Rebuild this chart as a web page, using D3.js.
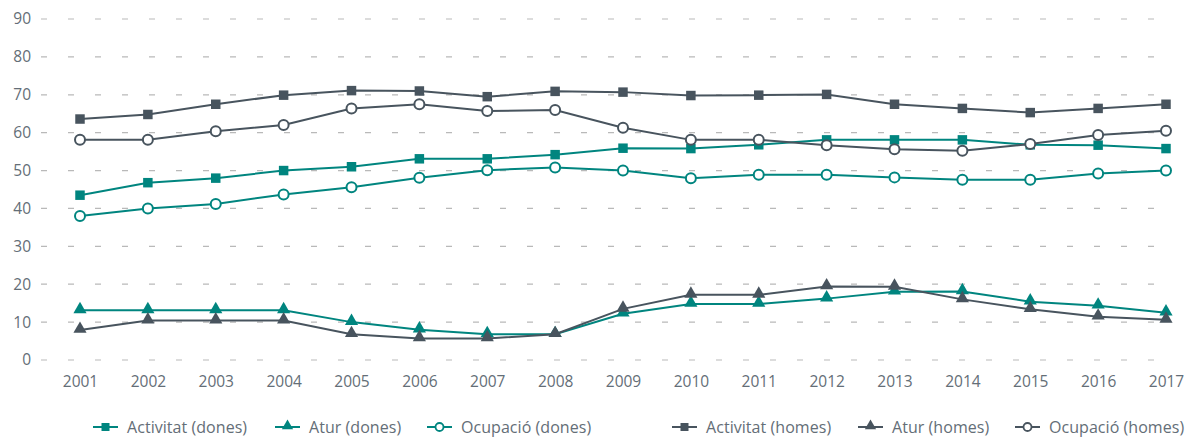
<!DOCTYPE html>
<html>
<head>
<meta charset="utf-8">
<script src="https://cdn.jsdelivr.net/npm/d3@7"></script>
<style>
  html, body { margin: 0; padding: 0; background: #fff; }
  svg { display: block; font-family: "Open Sans", "Noto Sans", sans-serif; }
</style>
</head>
<body>
<svg id="chart" width="1185" height="437"></svg>
<script>
// Years on the x axis
const years = [2001, 2002, 2003, 2004, 2005, 2006, 2007, 2008, 2009, 2010, 2011, 2012, 2013, 2014, 2015, 2016, 2017];
const yTicks = [0, 10, 20, 30, 40, 50, 60, 70, 80, 90];

// Rates (%) by sex
const activitatDones = [43.5, 46.8, 48.0, 50.0, 51.0, 53.1, 53.1, 54.2, 55.9, 55.8, 56.8, 58.1, 58.1, 58.1, 56.8, 56.7, 55.8];
const aturDones      = [13.1, 13.1, 13.1, 13.1, 10.0, 8.0, 6.8, 6.8, 12.2, 14.8, 14.8, 16.2, 18.0, 18.1, 15.4, 14.3, 12.5];
const ocupacioDones  = [38.0, 40.0, 41.2, 43.7, 45.6, 48.1, 50.1, 50.8, 50.0, 48.0, 48.9, 48.9, 48.2, 47.6, 47.6, 49.2, 50.0];
const activitatHomes = [63.6, 64.8, 67.5, 69.9, 71.1, 71.0, 69.5, 70.9, 70.7, 69.8, 69.9, 70.1, 67.5, 66.4, 65.3, 66.4, 67.5];
const aturHomes      = [7.9, 10.4, 10.4, 10.4, 6.8, 5.7, 5.7, 6.8, 13.5, 17.2, 17.2, 19.4, 19.3, 16.0, 13.4, 11.4, 10.6];
const ocupacioHomes  = [58.1, 58.1, 60.4, 62.0, 66.4, 67.5, 65.7, 66.0, 61.3, 58.1, 58.1, 56.7, 55.6, 55.2, 57.0, 59.4, 60.5];

const TEAL = "#00857f";
const DARK = "#48545e";
const TEXT = "#646e77";

const series = [
  { name: "Activitat (dones)", values: activitatDones, color: TEAL, marker: "square" },
  { name: "Atur (dones)",      values: aturDones,      color: TEAL, marker: "triangle" },
  { name: "Ocupació (dones)",  values: ocupacioDones,  color: TEAL, marker: "circle" },
  { name: "Activitat (homes)", values: activitatHomes, color: DARK, marker: "square" },
  { name: "Atur (homes)",      values: aturHomes,      color: DARK, marker: "triangle" },
  { name: "Ocupació (homes)",  values: ocupacioHomes,  color: DARK, marker: "circle" }
];

const svg = d3.select("#chart");

const x = d3.scalePoint().domain(years).range([80, 1166]);
const y = d3.scaleLinear().domain([0, 90]).range([360, 19]);

// Horizontal dashed grid
const grid = svg.append("g");
grid.selectAll("line").data(yTicks).join("line")
  .attr("x1", 41).attr("x2", 1168)
  .attr("y1", d => y(d)).attr("y2", d => y(d))
  .attr("stroke", "#b9b9b9").attr("stroke-width", 1.2)
  .attr("stroke-dasharray", "6,21");

// Y axis labels
const yAxis = d3.axisLeft(y).tickValues(yTicks).tickSize(0).tickPadding(0);
svg.append("g").attr("transform", "translate(31,0)").call(yAxis)
  .call(g => g.select(".domain").remove())
  .call(g => g.selectAll("text").attr("fill", TEXT).style("font-size", "15.5px")
    .style("font-family", "'Open Sans', sans-serif"));

// X axis labels
const xAxis = d3.axisBottom(x).tickSize(0).tickPadding(0);
svg.append("g").attr("transform", "translate(0,376)").call(xAxis)
  .call(g => g.select(".domain").remove())
  .call(g => g.selectAll("text").attr("fill", TEXT).style("font-size", "15.5px")
    .style("font-family", "'Open Sans', sans-serif"));

const line = d3.line().x((d, i) => x(years[i])).y(d => y(d));

const symbolFor = {
  square: d3.symbol().type(d3.symbolSquare).size(90),
  triangle: d3.symbol().type(d3.symbolTriangle).size(75),
};

function drawMarker(g, kind, color) {
  if (kind === "circle") {
    g.append("circle").attr("r", 5).attr("fill", "#fff")
      .attr("stroke", color).attr("stroke-width", 2);
  } else {
    g.append("path").attr("d", symbolFor[kind]()).attr("fill", color)
      .attr("transform", kind === "triangle" ? "translate(0,-1)" : null);
  }
}

// Women's series first, men's series drawn on top
const plot = svg.append("g");
series.forEach(s => {
  const g = plot.append("g");
  g.append("path").attr("d", line(s.values)).attr("fill", "none")
    .attr("stroke", s.color).attr("stroke-width", 2);
  s.values.forEach((v, i) => {
    const m = g.append("g").attr("transform", `translate(${x(years[i])},${y(v)})`);
    drawMarker(m, s.marker, s.color);
  });
});

// Legend
const legendX = [93, 275, 427, 672, 858, 1015];
const legend = svg.append("g").attr("transform", "translate(0,427)");
series.forEach((s, k) => {
  const g = legend.append("g").attr("transform", `translate(${legendX[k]},0)`);
  g.append("line").attr("x1", 0).attr("x2", 25).attr("stroke", s.color).attr("stroke-width", 2);
  const m = g.append("g").attr("transform", "translate(12.5,0)");
  if (s.marker === "circle") {
    m.append("circle").attr("r", 4).attr("fill", "#fff").attr("stroke", s.color).attr("stroke-width", 1.8);
  } else if (s.marker === "square") {
    m.append("path").attr("d", d3.symbol().type(d3.symbolSquare).size(64)()).attr("fill", s.color);
  } else {
    m.append("path").attr("d", d3.symbol().type(d3.symbolTriangle).size(55)()).attr("fill", s.color)
      .attr("transform", "translate(0,-1)");
  }
  g.append("text").attr("x", 34).attr("dy", "0.35em").attr("fill", TEXT)
    .style("font-size", "16px").style("letter-spacing", "0.05px").text(s.name);
});
</script>
</body>
</html>
